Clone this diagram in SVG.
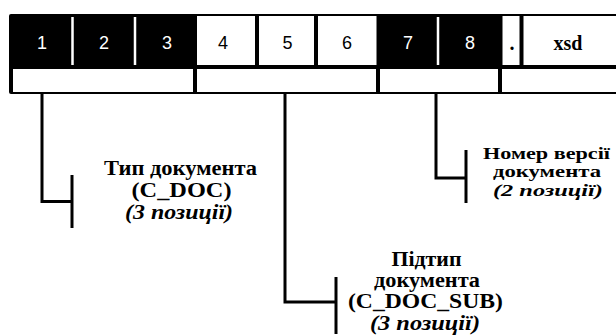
<svg xmlns="http://www.w3.org/2000/svg" width="616" height="336" viewBox="0 0 616 336">
<style>
.bg{fill:#000}
.cell{fill:#fff}
.div{stroke:#fff;stroke-width:2.5}
.dw{font-family:"Liberation Sans","DejaVu Sans",Arial,sans-serif;font-size:18px;fill:#fff;text-anchor:middle}
.db{font-family:"Liberation Sans","DejaVu Sans",Arial,sans-serif;font-size:18px;fill:#000;text-anchor:middle}
.ext{font-family:"Liberation Serif","DejaVu Serif","Times New Roman",serif;font-size:20px;font-weight:bold;fill:#000;text-anchor:middle}
.lbl{font-family:"Liberation Serif","DejaVu Serif","Times New Roman",serif;font-size:20px;font-weight:bold;fill:#000;text-anchor:middle}
.sm{font-size:16.5px}
.it{font-style:italic}
.con{fill:none;stroke:#000;stroke-width:3}
</style>
<rect width="616" height="336" fill="#fff"/>
<g id="bar">
  <rect class="bg" x="9" y="14" width="612" height="80" rx="2"/>
  <rect class="cell" x="197" y="16" width="58" height="49"/>
  <rect class="cell" x="259" y="16" width="55" height="49"/>
  <rect class="cell" x="318" y="16" width="58.5" height="49"/>
  <rect class="cell" x="502.5" y="16" width="17" height="49"/>
  <rect class="cell" x="523.5" y="16" width="100" height="49"/>
  <line class="div" x1="72.5" y1="17" x2="72.5" y2="65"/>
  <line class="div" x1="135" y1="17" x2="135" y2="65"/>
  <line class="div" x1="438" y1="17" x2="438" y2="65"/>
  <rect class="cell" x="13" y="69" width="180" height="23"/>
  <rect class="cell" x="197" y="69" width="179" height="23"/>
  <rect class="cell" x="380" y="69" width="118" height="23"/>
  <rect class="cell" x="502" y="69" width="120" height="23"/>
  <text class="dw" x="42" y="48.5">1</text>
  <text class="dw" x="104" y="48.5">2</text>
  <text class="dw" x="167" y="48.5">3</text>
  <text class="db" x="223" y="48.5">4</text>
  <text class="db" x="287.5" y="48.5">5</text>
  <text class="db" x="347" y="48.5">6</text>
  <text class="dw" x="408" y="48.5">7</text>
  <text class="dw" x="470" y="48.5">8</text>
  <text class="ext" x="512" y="50">.</text>
  <text class="ext" x="568" y="50">xsd</text>
</g>
<g id="connectors">
  <path class="con" d="M42,93 V201.5 H72"/>
  <line class="con" x1="72" y1="175" x2="72" y2="228"/>
  <path class="con" d="M285,93 V302 H336"/>
  <line class="con" x1="336" y1="277" x2="336" y2="334"/>
  <path class="con" d="M436,93 V178 H466"/>
  <line class="con" x1="466" y1="150" x2="466" y2="203"/>
</g>
<g id="label-type">
  <text class="lbl" x="180.5" y="175" textLength="153" lengthAdjust="spacingAndGlyphs">Тип документа</text>
  <text class="lbl" x="181.5" y="197" textLength="100" lengthAdjust="spacingAndGlyphs">(C_DOC)</text>
  <text class="lbl it" x="179" y="219" textLength="108" lengthAdjust="spacingAndGlyphs">(3 позиції)</text>
</g>
<g id="label-subtype">
  <text class="lbl" x="426.5" y="266" textLength="70" lengthAdjust="spacingAndGlyphs">Підтип</text>
  <text class="lbl" x="427" y="287" textLength="106" lengthAdjust="spacingAndGlyphs">документа</text>
  <text class="lbl" x="425.5" y="307.5" textLength="155" lengthAdjust="spacingAndGlyphs">(C_DOC_SUB)</text>
  <text class="lbl it" x="425" y="330" textLength="110" lengthAdjust="spacingAndGlyphs">(3 позиції)</text>
</g>
<g id="label-version">
  <text class="lbl sm" x="546.5" y="158.5" textLength="127" lengthAdjust="spacingAndGlyphs">Номер версії</text>
  <text class="lbl sm" x="547" y="177" textLength="108" lengthAdjust="spacingAndGlyphs">документа</text>
  <text class="lbl sm it" x="548" y="195.5" textLength="110" lengthAdjust="spacingAndGlyphs">(2 позиції)</text>
</g>
</svg>
